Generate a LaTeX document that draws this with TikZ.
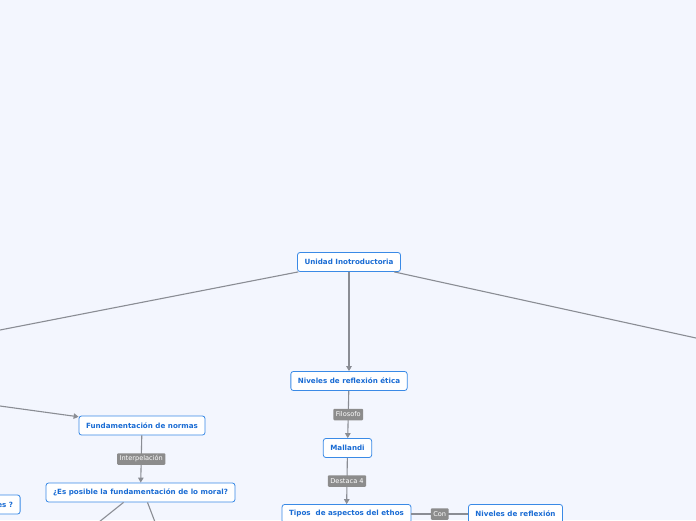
\documentclass[tikz,border=0pt]{standalone}
\usepackage{fontspec}
\setmainfont{DejaVu Sans}
\usetikzlibrary{arrows.meta}
\definecolor{bg}{HTML}{F3F6FE}
\definecolor{nodeblue}{HTML}{3A8AE6}
\definecolor{textblue}{HTML}{1A6CD4}
\definecolor{edgegray}{HTML}{8A8D94}
\definecolor{lblgray}{HTML}{8C8C8C}
\tikzset{
  topic/.style={draw=nodeblue, line width=0.8pt, rounded corners=2.5pt, fill=white,
    text=textblue, font=\fontsize{7.15}{8}\selectfont\bfseries, minimum height=19pt, inner xsep=7pt},
  lbl/.style={fill=lblgray, text=white, rounded corners=1pt, font=\fontsize{6.6}{7}\selectfont,
    inner xsep=2.5pt, inner ysep=0pt, minimum height=11.5pt},
  conn/.style={draw=edgegray, line width=1.1pt},
  arr/.style={conn, -{Triangle[width=5.5pt,length=5pt]}},
}
\begin{document}
\begin{tikzpicture}[x=1pt,y=-1pt]
\fill[bg] (0,0) rectangle (696,520);
\useasboundingbox (0,0) rectangle (696,520);
\coordinate (L1) at (0,330);
\coordinate (R1) at (696,338);
\coordinate (L2) at (0,406);
\coordinate (B1) at (99,522);
\coordinate (B2) at (155,522);
\node[topic] (u) at (349,262) {Unidad Inotroductoria};
\node[topic] (n1) at (349,381) {Niveles de reflexión ética};
\node[topic] (m) at (347.5,448) {Mallandi};
\node[topic] (t) at (346.5,514) {Tipos\ \ de aspectos del ethos};
\node[topic] (n2) at (515.5,514) {Niveles de reflexión};
\node[topic] (f) at (142,425.5) {Fundamentación de normas};
\node[topic] (e) at (140.5,492.5) {¿Es posible la fundamentación de lo moral?};
\node[topic, anchor=east] (q) at (20.5,504.5) {\hspace*{40pt}es ?};
\draw[conn] (u) -- (L1);
\draw[conn] (u) -- (R1);
\draw[arr] (u) -- (n1);
\draw[arr] (n1) -- (m) node[midway, lbl] {Filosofo};
\draw[arr] (m) -- (t) node[midway, lbl] {Destaca 4};
\draw[conn] (t) -- (n2) node[midway, lbl] {Con};
\draw[arr] (L2) -- (f);
\draw[arr] (f) -- (e) node[midway, lbl] {Interpelación};
\draw[conn] ([xshift=-17pt]e.south) -- (B1);
\draw[conn] ([xshift=7pt]e.south) -- (B2);
\end{tikzpicture}
\end{document}
